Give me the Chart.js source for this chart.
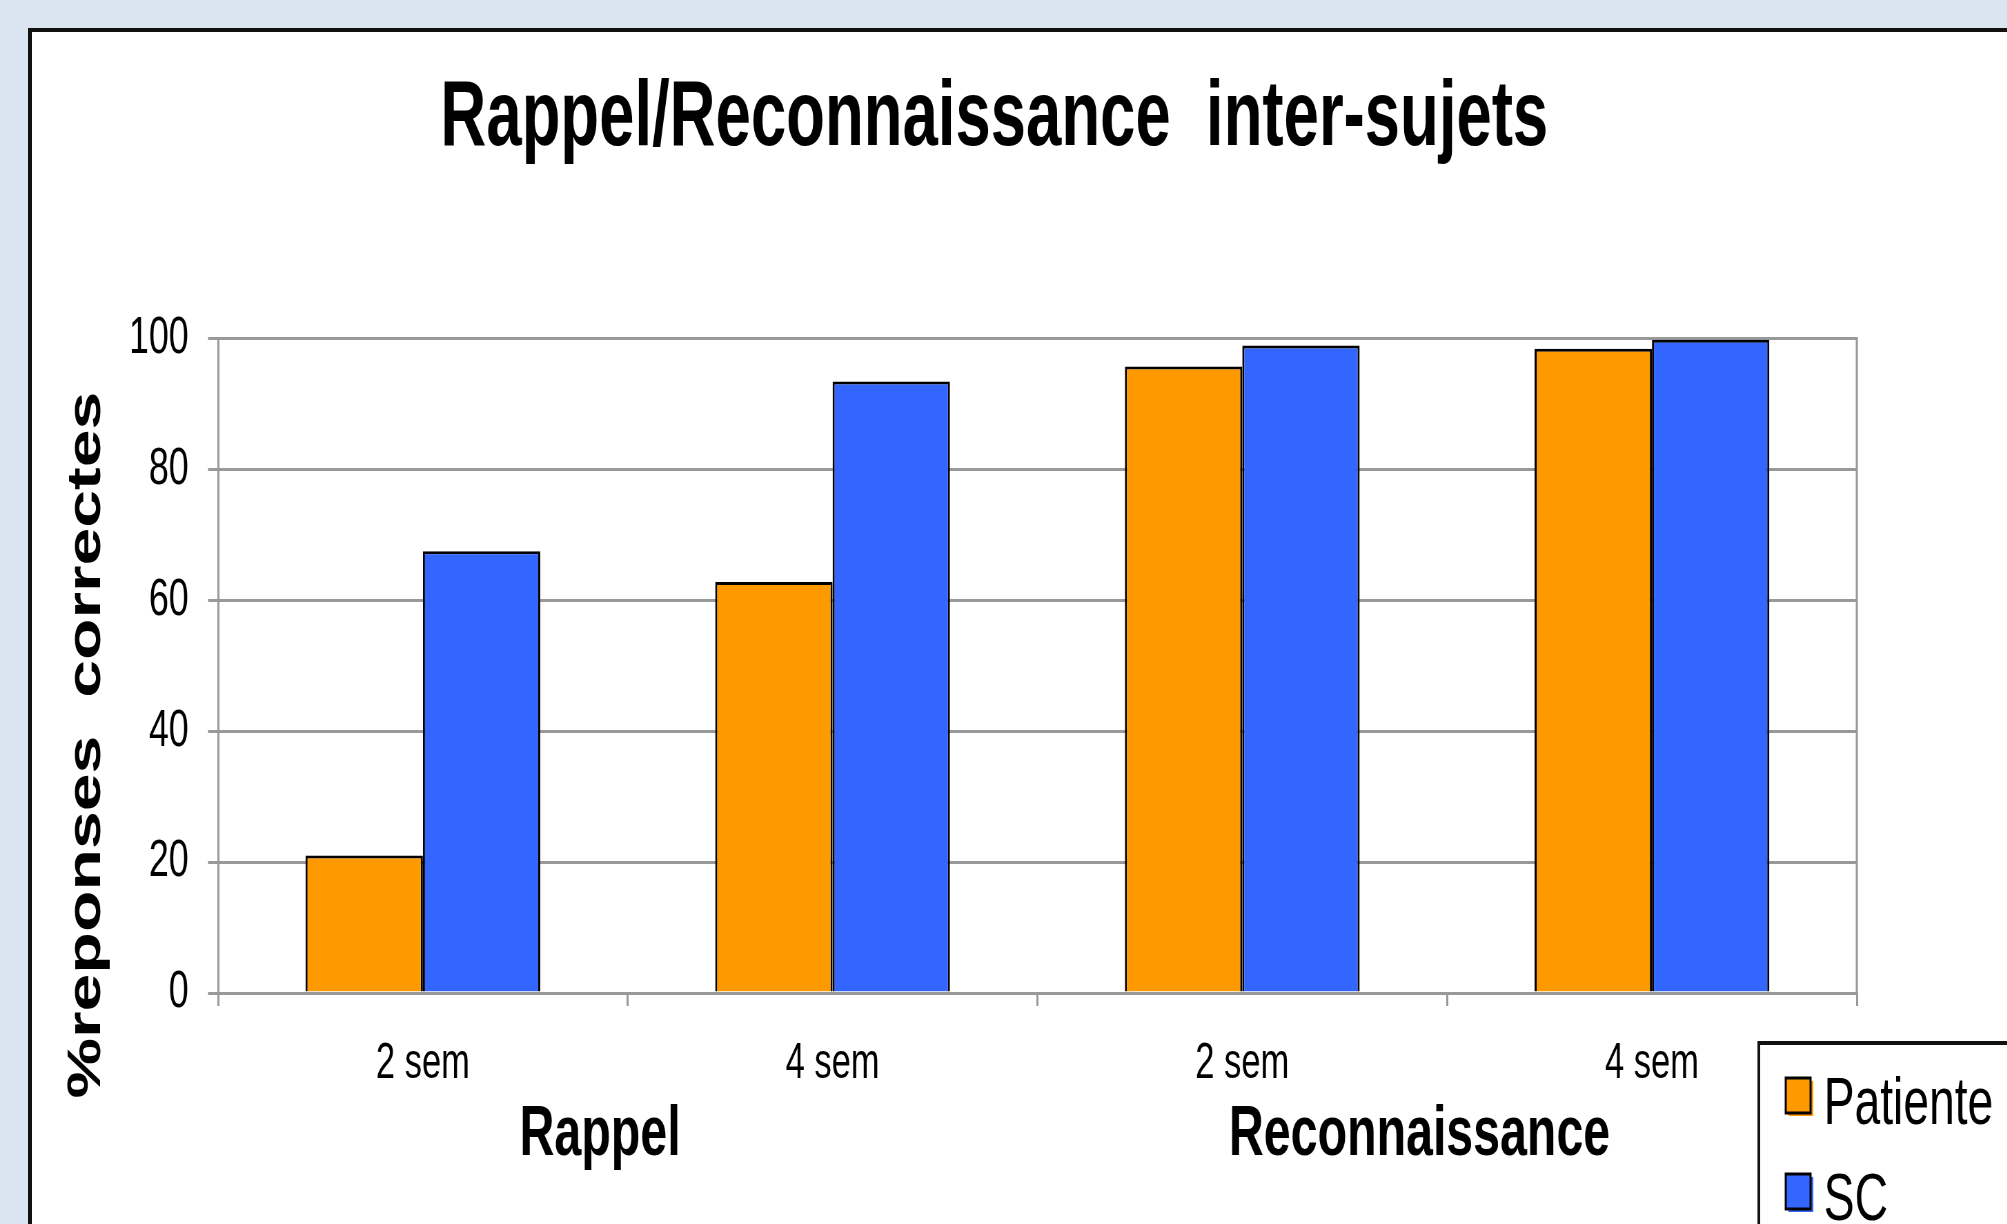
<!DOCTYPE html>
<html>
<head>
<meta charset="utf-8">
<title>Rappel/Reconnaissance inter-sujets</title>
<script src="https://cdn.jsdelivr.net/npm/chart.js"></script>
<style>
  html, body { margin: 0; padding: 0; }
  body {
    width: 2007px; height: 1224px; overflow: hidden;
    background: #dbe5f1; position: relative;
  }
  /* slide frame, runs off the right and bottom edges */
  #frame {
    position: absolute; left: 28px; top: 28px;
    width: 2100px; height: 1300px;
    border: 4px solid #111; background: #fff;
  }
  /* the original picture is squeezed horizontally, so draw wide and compress */
  #wrap {
    position: absolute; left: 0; top: 0;
    width: 2909px; height: 1224px;
    transform: scaleX(0.69); transform-origin: 0 0;
  }
</style>
</head>
<body>
<div id="frame"></div>
<div id="wrap"><canvas id="chart"></canvas></div>
<script>
// ---- data ----
const categories = ["2 sem", "4 sem", "2 sem", "4 sem"];
const groups = ["Rappel", "Reconnaissance"];
const patienteValues = [21, 62.8, 95.7, 98.4];
const scValues = [67.5, 93.4, 98.9, 99.8];
const seriesNames = ["Patiente", "SC"];
const seriesColors = ["#ff9900", "#3366ff"];
const yMin = 0, yMax = 100, yStep = 20;

const FONT = "'Liberation Sans', Arial, sans-serif";
const GRID = "#999999";

// Extra drawing: right border of the plot, rotated y title, boxed legend.
const extras = {
  id: "extras",
  beforeDatasetsDraw(chart) {
    const { ctx, chartArea } = chart;
    ctx.save();
    ctx.strokeStyle = GRID;
    ctx.lineWidth = 3;
    ctx.beginPath();
    ctx.moveTo(chartArea.right, chartArea.top - 1.5);
    ctx.lineTo(chartArea.right, chartArea.bottom);
    ctx.stroke();
    ctx.restore();
  },
  afterDraw(chart) {
    const ctx = chart.ctx;

    // y axis title
    ctx.save();
    ctx.translate(145, 745);
    ctx.rotate(-Math.PI / 2);
    ctx.font = "bold 68px " + FONT;
    ctx.fillStyle = "#000";
    ctx.textAlign = "center";
    ctx.textBaseline = "alphabetic";
    ctx.fillText("%reponses  correctes", 0, 0);
    ctx.restore();

    // legend box
    ctx.save();
    ctx.strokeStyle = "#111";
    ctx.lineWidth = 4;
    ctx.strokeRect(2549, 1043, 600, 400);
    chart.data.datasets.forEach((ds, i) => {
      const top = 1078 + i * 96;
      ctx.fillStyle = ds.backgroundColor;
      ctx.fillRect(2592, top + 3, 36, 35);
      ctx.fillRect(2588, top, 36, 35);
      ctx.strokeStyle = "#000";
      ctx.lineWidth = 3;
      ctx.strokeRect(2588, top, 36, 35);
      ctx.fillStyle = "#000";
      ctx.font = "67px " + FONT;
      ctx.textAlign = "left";
      ctx.textBaseline = "middle";
      ctx.fillText(ds.label, 2643, top + 28);
    });
    ctx.restore();
  }
};

new Chart(document.getElementById("chart"), {
  type: "bar",
  data: {
    labels: categories,
    datasets: [
      {
        label: seriesNames[0],
        data: patienteValues,
        backgroundColor: seriesColors[0],
        borderColor: "#000",
        borderWidth: 3
      },
      {
        label: seriesNames[1],
        data: scValues,
        backgroundColor: seriesColors[1],
        borderColor: "#000",
        borderWidth: 3
      }
    ]
  },
  options: {
    responsive: true,
    maintainAspectRatio: false,
    animation: false,
    devicePixelRatio: 1,
    datasets: { bar: { categoryPercentage: 0.573, barPercentage: 1.0 } },
    layout: { padding: { left: 191, right: 218, top: 0, bottom: 46 } },
    plugins: {
      legend: { display: false },
      tooltip: { enabled: false },
      title: {
        display: true,
        text: "Rappel/Reconnaissance  inter-sujets",
        color: "#000",
        font: { family: FONT, size: 92, weight: "bold", lineHeight: 1.2 },
        padding: { top: 64, bottom: 164 }
      }
    },
    scales: {
      x: {
        weight: 0,
        offset: true,
        afterFit: s => { s.height = 101; },
        grid: {
          offset: true,
          drawOnChartArea: false,
          drawTicks: true,
          tickLength: 13,
          color: GRID,
          lineWidth: 3
        },
        border: { display: true, color: GRID, width: 3 },
        ticks: {
          color: "#000",
          padding: 28,
          maxRotation: 0,
          font: { family: FONT, size: 50 }
        }
      },
      x2: {
        type: "category",
        position: "bottom",
        weight: 1,
        labels: groups,
        offset: true,
        afterFit: s => { s.height = 84; },
        grid: { display: false, drawTicks: false },
        border: { display: false },
        ticks: {
          color: "#000",
          padding: 0,
          labelOffset: -40,
          maxRotation: 0,
          font: { family: FONT, size: 70, weight: "bold" }
        }
      },
      y: {
        min: yMin,
        max: yMax,
        afterFit: s => { s.width = 125; },
        grid: {
          color: GRID,
          lineWidth: 3,
          drawTicks: true,
          tickLength: 14.5
        },
        border: { display: true, color: GRID, width: 3 },
        ticks: {
          stepSize: yStep,
          color: "#000",
          padding: 28,
          font: { family: FONT, size: 52 }
        }
      }
    }
  },
  plugins: [extras]
});
</script>
</body>
</html>
